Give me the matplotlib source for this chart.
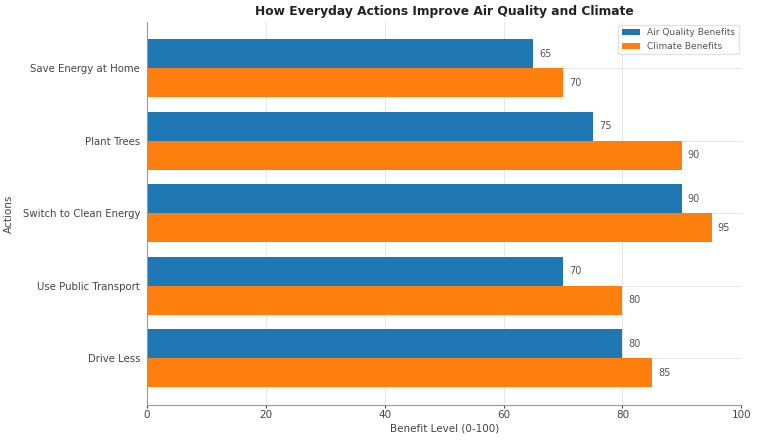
import matplotlib
matplotlib.use("Agg")
import matplotlib.pyplot as plt
import numpy as np

actions = ["Drive Less", "Use Public Transport", "Switch to Clean Energy", "Plant Trees", "Save Energy at Home"]
air_quality = [80, 70, 90, 75, 65]
climate = [85, 80, 95, 90, 70]
series_names = ["Air Quality Benefits", "Climate Benefits"]
colors = ["#1f77b4", "#ff7f0e"]

fig, ax = plt.subplots(figsize=(7.58, 4.40), dpi=100)
fig.subplots_adjust(left=0.194, right=0.978, top=0.95, bottom=0.08)

y = np.arange(len(actions))
h = 0.4
b1 = ax.barh(y + h / 2, air_quality, height=h, color=colors[0], label=series_names[0])
b2 = ax.barh(y - h / 2, climate, height=h, color=colors[1], label=series_names[1])

for bars in (b1, b2):
    for bar in bars:
        w = bar.get_width()
        ax.text(w + 1, bar.get_y() + bar.get_height() / 2, f"{int(w)}",
                va="center", ha="left", fontsize=7, color="#555555")

ax.set_yticks(y)
ax.set_yticklabels(actions)
ax.set_xlim(0, 100)
ax.set_xlabel("Benefit Level (0-100)", fontsize=7.5, color="#444444", labelpad=2)
ax.set_ylabel("Actions", fontsize=7.5, color="#444444", labelpad=6)
ax.set_title("How Everyday Actions Improve Air Quality and Climate", fontsize=8.8, fontweight="bold", color="#222222", pad=5)
ax.tick_params(axis="y", labelsize=7.3, colors="#444444", length=0, pad=5)
ax.tick_params(axis="x", labelsize=7.5, colors="#444444", length=2, pad=2)
ax.grid(True, color="#e6e6e6", linewidth=0.7)
ax.set_axisbelow(True)
for s in ["top", "right"]:
    ax.spines[s].set_visible(False)
for s in ["left", "bottom"]:
    ax.spines[s].set_color("#999999")
leg = ax.legend(loc="upper right", fontsize=6.5, frameon=True, borderaxespad=0.3)
leg.get_frame().set_edgecolor("#dddddd")
for t in leg.get_texts():
    t.set_color("#555555")

fig.savefig("out.png", dpi=100)
